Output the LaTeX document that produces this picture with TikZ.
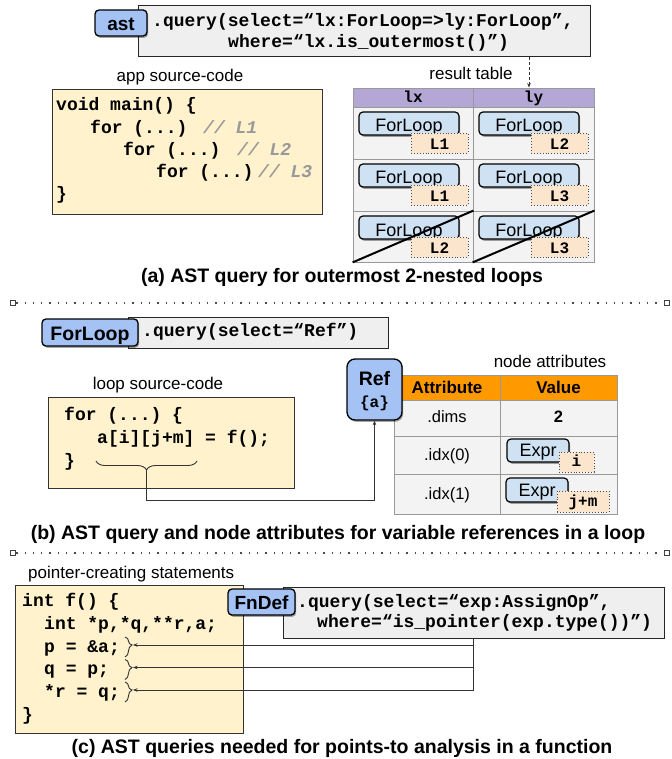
\documentclass[tikz,border=0pt]{standalone}
\usepackage{fontspec}
\setmainfont{Liberation Sans}
\setsansfont{Liberation Sans}
\setmonofont{Liberation Mono}
\usetikzlibrary{shadows,decorations.pathreplacing,arrows.meta,calc}
\definecolor{qblue}{HTML}{A4C2F4}
\definecolor{lblue}{HTML}{CFE2F3}
\definecolor{lorange}{HTML}{FCE5CD}
\definecolor{lyellow}{HTML}{FFF2CC}
\definecolor{qgray}{HTML}{EFEFEF}
\definecolor{purp}{HTML}{B4A7D6}
\definecolor{cellgray}{HTML}{F3F3F3}
\definecolor{orangeh}{HTML}{FF9900}
\definecolor{cmtgray}{HTML}{999999}
\tikzset{
 shad/.style={drop shadow={shadow xshift=1.2pt, shadow yshift=-1.8pt, opacity=0.35, fill=black}},
 qnode/.style={draw=black, line width=1.3pt, fill=qblue, rounded corners=4pt, inner sep=0pt, shad,
   font=\fontsize{19}{19}\selectfont\bfseries, text height=15.5pt, text depth=0pt},
 tnode/.style={draw=black, line width=1.2pt, fill=lblue, rounded corners=4pt, inner sep=0pt, shad,
   font=\fontsize{18}{18}\selectfont, text height=17pt, text depth=0pt},
 labbox/.style={draw=black!70, dotted, line width=0.9pt, fill=lorange, inner sep=0pt,
   font=\fontsize{16}{16}\selectfont\ttfamily\bfseries, text height=12.6pt, text depth=0pt},
 qbox/.style={draw=black!85, line width=1pt, fill=qgray, inner sep=0pt},
 codebox/.style={draw=black!80, line width=0.9pt, fill=lyellow, inner sep=0pt},
 codetxt/.style={anchor=base west, inner sep=0pt, font=\fontsize{18}{18}\selectfont\ttfamily\bfseries},
 cmttxt/.style={anchor=base west, inner sep=0pt, text=cmtgray, font=\fontsize{18}{18}\selectfont\ttfamily\bfseries\itshape},
 lbltxt/.style={anchor=base, inner sep=0pt, font=\fontsize{17}{17}\selectfont},
 tbltxt/.style={anchor=base, inner sep=0pt, font=\fontsize{16.5}{16.5}\selectfont},
 hdrmono/.style={anchor=base, inner sep=0pt, font=\fontsize{16}{16}\selectfont\ttfamily\bfseries},
 capttxt/.style={anchor=base, inner sep=0pt, font=\fontsize{19.5}{19.5}\selectfont\bfseries},
 sepline/.style={draw=black!70, line width=1.3pt, dash pattern=on 1.3pt off 7pt},
 sepsq/.style={draw=black!75, fill=white, line width=1pt, minimum size=5.5pt, inner sep=0pt},
 conn/.style={draw=black!80, line width=0.9pt},
 arr/.style={-{Stealth[length=4.5pt,width=3.5pt]}},
 cell/.style={draw=black!40, line width=0.8pt, inner sep=0pt},
}
\begin{document}
\begin{tikzpicture}[x=1pt,y=-1pt]
\useasboundingbox (0,0) rectangle (671,759);
\fill[white] (0,0) rectangle (671,759);

% ---------------- (a) ----------------
\node[qbox, minimum width=452pt, minimum height=51pt] (qa) at (364,31.5) {};
\node[qnode, minimum width=52pt, minimum height=26pt] (ast) at (121,23) {ast};
\node[codetxt] (qa1) at (152,27) {.query(select=“lx:ForLoop=>ly:ForLoop”,};
\node[codetxt] (qa2) at (228,48) {where=“lx.is\_outermost()”)};

\node[lbltxt] (lapp) at (180,82) {app source-code};
\node[codebox, minimum width=270pt, minimum height=125pt] (cba) at (187,151.5) {};
\node[codetxt] (ca1) at (56,111) {void main() \{};
\node[codetxt] (ca2) at (90,133.5) {for (...)};
\node[cmttxt] (cm1) at (203,133.5) {// L1};
\node[codetxt] (ca3) at (123,156) {for (...)};
\node[cmttxt] (cm2) at (237,156) {// L2};
\node[codetxt] (ca4) at (156,178) {for (...)};
\node[cmttxt] (cm3) at (258,178) {// L3};
\node[codetxt] (ca5) at (56,200) {\}};

\node[lbltxt] (lres) at (471,80) {result table};
\node[cell, fill=purp, minimum width=120pt, minimum height=19pt] (h1) at (413,97.5) {};
\node[cell, fill=purp, minimum width=121pt, minimum height=19pt] (h2) at (533.5,97.5) {};
\node[hdrmono] (hlx) at (413,102.5) {lx};
\node[hdrmono] (hly) at (533.5,102.5) {ly};
\foreach \r/\cy/\hh in {1/133/52, 2/185/52, 3/236.5/51}{
  \node[cell, fill=cellgray, minimum width=120pt, minimum height=\hh pt] (r\r c1) at (413,\cy) {};
  \node[cell, fill=cellgray, minimum width=121pt, minimum height=\hh pt] (r\r c2) at (533.5,\cy) {};
}
\foreach \r/\fy/\ly/\la/\lb in {1/123.5/143/L1/L2, 2/175.5/195/L1/L3, 3/227.5/247/L2/L3}{
  \node[tnode, minimum width=100pt, minimum height=23pt] (fa\r) at (409,\fy) {ForLoop};
  \node[labbox, minimum width=57pt, minimum height=20pt] (la\r) at (439.5,\ly) {\la};
  \node[tnode, minimum width=100pt, minimum height=23pt] (fb\r) at (529,\fy) {ForLoop};
  \node[labbox, minimum width=57pt, minimum height=20pt] (lb\r) at (559.5,\ly) {\lb};
}
\draw[line width=2pt] (r3c1.south west) -- (r3c1.north east);
\draw[line width=2pt] (r3c2.south west) -- (r3c2.north east);
\draw[conn, dash pattern=on 3pt off 2pt, arr] ($(qa.south -| h2.north)+(-4.5,0)$) -- ($(h2.north)+(-4.5,0)$);

\node[capttxt] (capa) at (342,282) {(a) AST query for outermost 2-nested loops};

% separator 1
\node[sepsq] (s1l) at (13,303) {};
\node[sepsq] (s1r) at (667,303) {};
\draw[sepline] (s1l) -- (s1r);

% ---------------- (b) ----------------
\node[qbox, minimum width=260pt, minimum height=31pt] (qb) at (258,332.5) {};
\node[qnode, minimum width=96pt, minimum height=27pt, font=\fontsize{19.5}{19.5}\selectfont\bfseries] (flp) at (90,332.5) {ForLoop};
\node[codetxt] (qb1) at (142,336) {.query(select=“Ref”)};

\node[lbltxt] (lloop) at (158,389) {loop source-code};
\node[codebox, minimum width=246pt, minimum height=91pt] (cbb) at (171,442.5) {};
\node[codetxt] (cb1) at (64,420) {for (...) \{};
\node[codetxt] (cb2) at (97,443) {a[i][j+m] = f();};
\node[codetxt] (cb3) at (64,466) {\}};
\draw[conn, decorate, decoration={brace, amplitude=9pt}] (197,461) -- (96,461);
\coordinate (bt) at (146.5,470);

\node[lbltxt] (lattr) at (550,367) {node attributes};
\node[cell, fill=orangeh, minimum width=106pt, minimum height=25pt] (ha) at (447,387.5) {};
\node[cell, fill=orangeh, minimum width=117pt, minimum height=25pt] (hv) at (558.5,387.5) {};
\foreach \r/\cy/\hh in {1/418/36, 2/455/38, 3/494/40}{
  \node[cell, fill=cellgray, minimum width=106pt, minimum height=\hh pt] (ta\r) at (447,\cy) {};
  \node[cell, fill=cellgray, minimum width=117pt, minimum height=\hh pt] (tv\r) at (558.5,\cy) {};
}
\node[tbltxt, font=\fontsize{17}{17}\selectfont\bfseries] (tattr) at (447,393) {Attribute};
\node[tbltxt, font=\fontsize{17}{17}\selectfont\bfseries] (tval) at (558.5,393) {Value};
\node[tbltxt] (tdims) at (447,422) {.dims};
\node[tbltxt, font=\fontsize{16.5}{16.5}\selectfont\bfseries] (ttwo) at (558.5,422) {2};
\node[tbltxt] (tidx0) at (447,460) {.idx(0)};
\node[tbltxt] (tidx1) at (447,499) {.idx(1)};
\node[tnode, minimum width=62pt, minimum height=23pt, text height=12pt] (ex1) at (538,450.5) {Expr};
\node[labbox, minimum width=35pt, minimum height=20pt, text height=9.5pt] (exl1) at (576.5,462) {i};
\node[tnode, minimum width=62pt, minimum height=24pt, text height=12pt] (ex2) at (537,490) {Expr};
\node[labbox, minimum width=52pt, minimum height=21pt, text height=9.5pt] (exl2) at (583,501.5) {j+m};

\node[qnode, rounded corners=8pt, minimum width=55pt, minimum height=61pt] (ref) at (374.5,389.5) {};
\node[anchor=base, inner sep=0pt, font=\fontsize{19.5}{19.5}\selectfont\bfseries] (reft) at (374.5,385) {Ref};
\node[anchor=base, inner sep=0pt, font=\fontsize{16}{16}\selectfont\ttfamily\bfseries] (refa) at (374.5,407) {\{a\}};
\draw[conn, arr] (bt) -- ++(0,30) -| (ref.south);

\node[capttxt] (capb) at (338,539) {(b) AST query and node attributes for variable references in a loop};

% separator 2
\node[sepsq] (s2l) at (13,553) {};
\node[sepsq] (s2r) at (667,553) {};
\draw[sepline] (s2l) -- (s2r);

% ---------------- (c) ----------------
\node[lbltxt, anchor=base west] (lptr) at (28,578) {pointer-creating statements};
\node[codebox, minimum width=228pt, minimum height=148pt] (cbc) at (129,659) {};
\node[codetxt] (cc1) at (22,606) {int f() \{};
\node[codetxt] (cc2) at (44,629) {int *p,*q,**r,a;};
\node[codetxt] (cc3) at (44,652) {p = \&a;};
\node[codetxt] (cc4) at (44,674) {q = p;};
\node[codetxt] (cc5) at (44,697) {*r = q;};
\node[codetxt] (cc6) at (22,720) {\}};

\node[qbox, minimum width=381pt, minimum height=51pt] (qc) at (473.5,612.5) {};
\node[qnode, minimum width=67pt, minimum height=26pt] (fnd) at (261.5,602) {FnDef};
\node[codetxt] (qc1) at (297,607) {.query(select=“exp:AssignOp”,};
\node[codetxt] (qc2) at (317,627) {where=“is\_pointer(exp.type())”)};

\draw[conn, decorate, decoration={brace, amplitude=7pt, aspect=0.4}] (125,637) -- (125,657);
\draw[conn, decorate, decoration={brace, amplitude=7pt, aspect=0.4}] (125,659.5) -- (125,679.5);
\draw[conn, decorate, decoration={brace, amplitude=7pt, aspect=0.4}] (125,682) -- (125,702);
\coordinate (c1) at (133,645);
\coordinate (c2) at (133,667.5);
\coordinate (c3) at (133,690);
\draw[conn] (qc.south) -- (qc.south |- c3);
\draw[conn, arr] (qc.south |- c1) -- (c1);
\draw[conn, arr] (qc.south |- c2) -- (c2);
\draw[conn, arr] (qc.south |- c3) -- (c3);

\node[capttxt] (capc) at (342,753) {(c) AST queries needed for points-to analysis in a function};
\end{tikzpicture}
\end{document}
